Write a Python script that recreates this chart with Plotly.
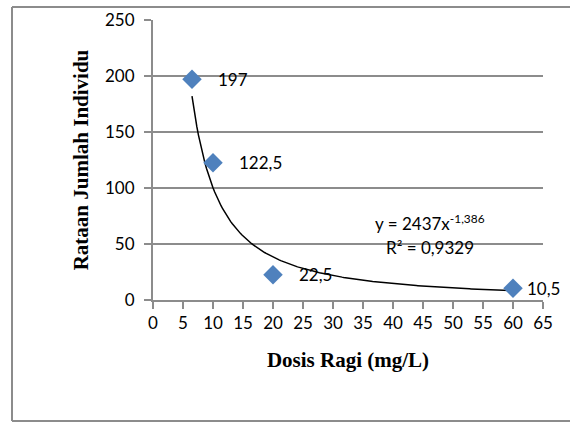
import numpy as np
import plotly.graph_objects as go

dosis = [6.5, 10, 20, 60]
rataan = [197, 122.5, 22.5, 10.5]
label_text = ["197", "122,5", "22,5", "10,5"]
trend_a = 2437
trend_b = -1.386
x_ticks = list(range(0, 70, 5))
y_ticks = list(range(0, 300, 50))

W, H = 570, 423
L, R, T, B = 153, 27, 20, 123
pw, ph = W - L - R, H - T - B

def px2paper_x(px):
    return (px - L) / pw

def px2paper_y(py):
    return (H - B - py) / ph

fig = go.Figure()

xt = np.linspace(min(dosis), max(dosis), 200)
fig.add_trace(go.Scatter(x=xt, y=trend_a * xt ** trend_b, mode="lines",
                         line=dict(color="black", width=1.5), hoverinfo="skip"))
fig.add_trace(go.Scatter(x=dosis, y=rataan, mode="markers",
                         marker=dict(symbol="diamond", size=15, color="#4F81BD",
                                     line=dict(width=0))))

shifts = [24, 24, 24, 12]
for xv, yv, t, s in zip(dosis, rataan, label_text, shifts):
    fig.add_annotation(x=xv, y=yv, text=t, showarrow=False, xanchor="left",
                       yanchor="middle", xshift=s,
                       font=dict(family="Lato", size=17, color="black"))

fig.add_annotation(x=px2paper_x(430), y=px2paper_y(222), xref="paper", yref="paper",
                   xanchor="center", yanchor="middle",
                   text="y = 2437x<sup>-1,386</sup>", showarrow=False,
                   font=dict(family="Lato", size=17, color="black"))
fig.add_annotation(x=px2paper_x(430), y=px2paper_y(247), xref="paper", yref="paper",
                   xanchor="center", yanchor="middle",
                   text="R² = 0,9329", showarrow=False,
                   font=dict(family="Lato", size=17, color="black"))

border = dict(color="#8c8c8c", width=2)
fig.add_shape(type="line", xref="paper", yref="paper", layer="above", line=border,
              x0=px2paper_x(12), x1=px2paper_x(570), y0=px2paper_y(7), y1=px2paper_y(7))
fig.add_shape(type="line", xref="paper", yref="paper", layer="above", line=border,
              x0=px2paper_x(12), x1=px2paper_x(12), y0=px2paper_y(7), y1=px2paper_y(421))
fig.add_shape(type="line", xref="paper", yref="paper", layer="above", line=border,
              x0=px2paper_x(12), x1=px2paper_x(570), y0=px2paper_y(421), y1=px2paper_y(421))

fig.update_layout(
    width=W, height=H,
    margin=dict(l=L, r=R, t=T, b=B, autoexpand=False),
    paper_bgcolor="white", plot_bgcolor="white",
    showlegend=False,
    xaxis=dict(range=[0, 65], tickvals=x_ticks, showgrid=False, zeroline=False,
               showline=True, linecolor="#8c8c8c", linewidth=2,
               ticks="outside", ticklen=7, tickcolor="#8c8c8c", tickwidth=2,
               tickfont=dict(family="Lato", size=17, color="black"),
               title=dict(text="<b>Dosis Ragi (mg/L)</b>", standoff=20,
                          font=dict(family="Liberation Serif", size=21, color="black"))),
    yaxis=dict(range=[0, 250], tickvals=y_ticks, showgrid=True, gridcolor="#8c8c8c",
               gridwidth=2, zeroline=False,
               showline=True, linecolor="#8c8c8c", linewidth=2,
               ticks="outside", ticklen=7, tickcolor="#8c8c8c", tickwidth=2,
               ticklabelstandoff=6,
               tickfont=dict(family="Lato", size=17, color="black"),
               title=dict(text="<b>Rataan Jumlah Individu</b>", standoff=11,
                          font=dict(family="Liberation Serif", size=21, color="black"))),
)

fig.write_html("out.html", config={"displayModeBar": False},
               post_script="document.body.style.margin='0';document.body.style.overflow='hidden';")
